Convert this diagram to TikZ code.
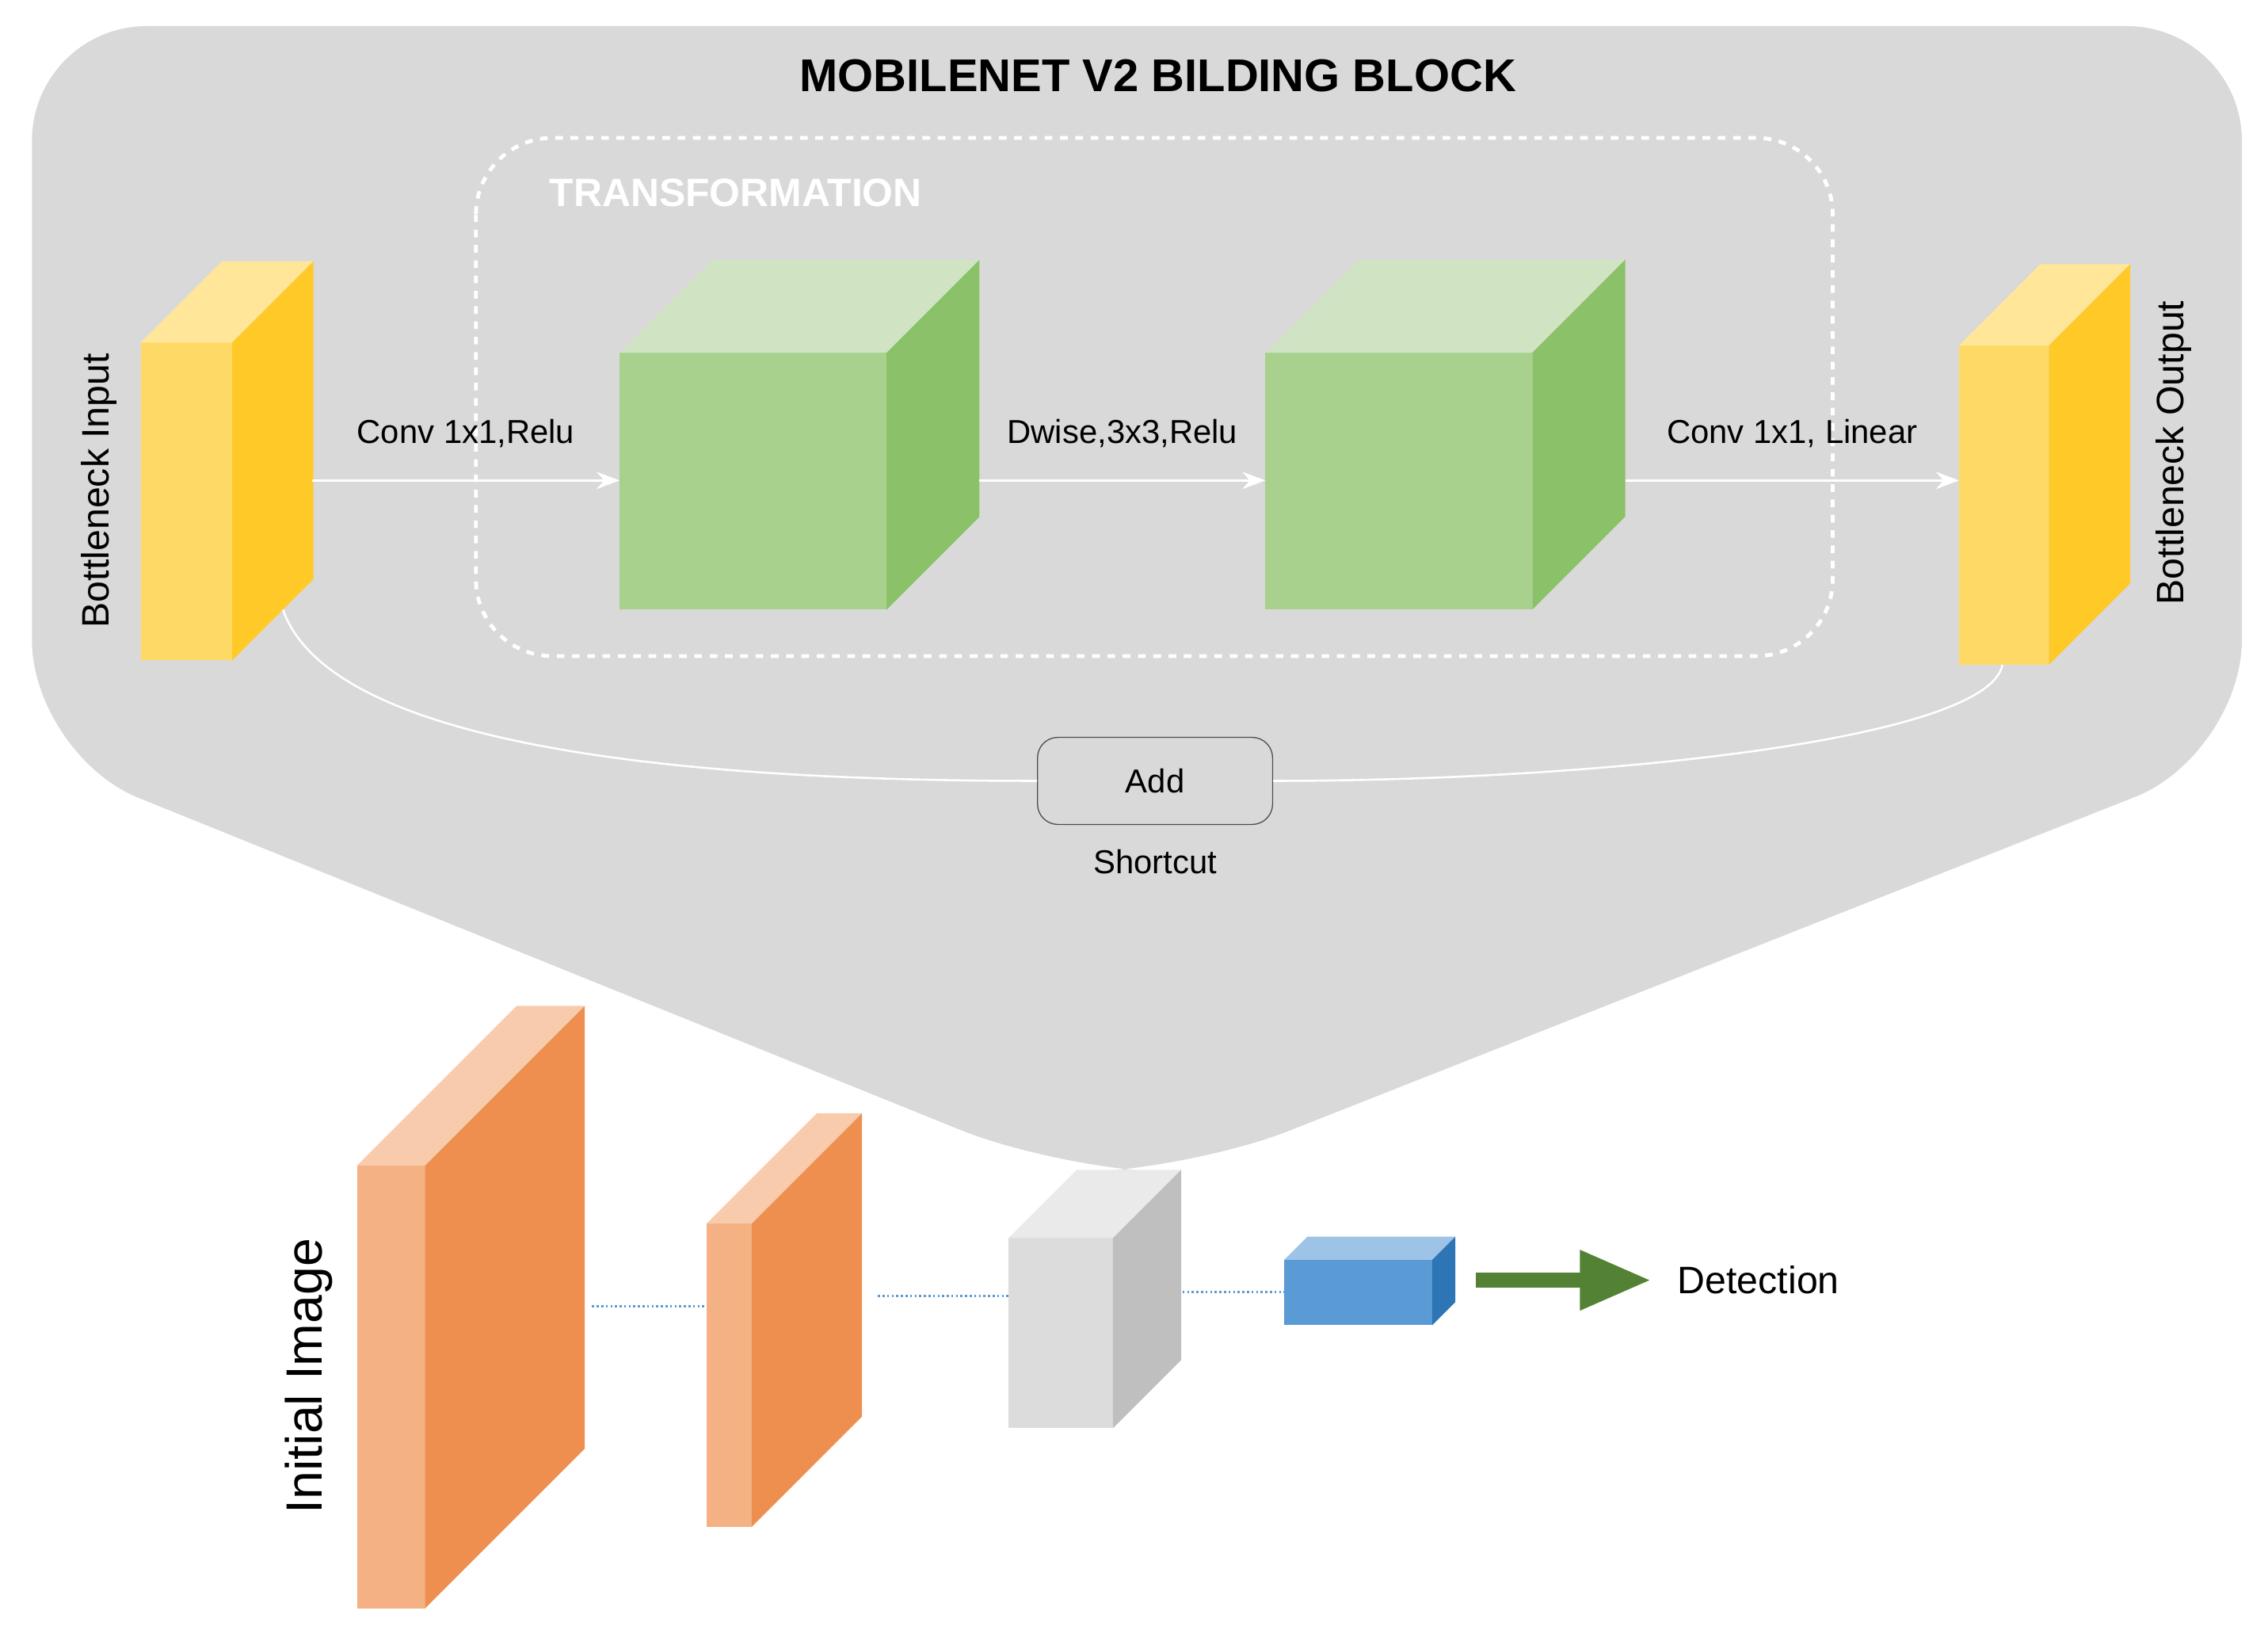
\documentclass[tikz,border=0pt]{standalone}
\usepackage{fontspec}
\setmainfont{Liberation Sans}
\usetikzlibrary{arrows.meta,positioning}
\definecolor{bggray}{HTML}{D9D9D9}
\definecolor{ylwF}{HTML}{FFD966}\definecolor{ylwT}{HTML}{FFE699}\definecolor{ylwS}{HTML}{FFCA28}
\definecolor{grnF}{HTML}{A9D18E}\definecolor{grnT}{HTML}{D0E4C4}\definecolor{grnS}{HTML}{8BC168}
\definecolor{orgF}{HTML}{F4B183}\definecolor{orgT}{HTML}{F8CBAD}\definecolor{orgS}{HTML}{EF8F4F}
\definecolor{gryF}{HTML}{DCDCDC}\definecolor{gryT}{HTML}{EAEAEA}\definecolor{gryS}{HTML}{BFBFBF}
\definecolor{bluF}{HTML}{5B9BD5}\definecolor{bluT}{HTML}{9DC3E6}\definecolor{bluS}{HTML}{2E75B6}
\definecolor{dotblue}{HTML}{5B9BD5}
\definecolor{arrgreen}{HTML}{548235}
% cuboid: x, y(top of front), width, height, depth, front, top, side
\newcommand\cuboid[8]{%
  \fill[#6] (#1,#2) rectangle ++(#3,#4);
  \fill[#7] (#1,#2) -- ++(#5,-#5) -- ++(#3,0) -- ++(-#5,#5) -- cycle;
  \fill[#8] ({#1+#3},#2) -- ++(#5,-#5) -- ++(0,#4) -- ++(-#5,#5) -- cycle;}
\tikzset{
  lbl/.style={font=\fontsize{13}{15}\selectfont},
  wflow/.style={draw=white,thick,-{Stealth[length=9pt]}},
  dotlink/.style={draw=dotblue,densely dotted,thick}
}
\begin{document}
\begin{tikzpicture}[x=0.02cm,y=-0.02cm]
  \useasboundingbox (0,0) rectangle (1563,1120);
  % background funnel
  \fill[bggray,rounded corners=45] (22,18) -- (1545,18) -- (1545,520) -- (815,808)
    -- (735,808) -- (22,520) -- cycle;
  \node[font=\bfseries\fontsize{18}{21}\selectfont] at (798,52) {MOBILENET V2 BILDING BLOCK};
  \draw[white,dashed,line width=1.5pt,rounded corners=30] (328,95) rectangle (1263,452);
  \node[white,font=\bfseries\fontsize{15.5}{18}\selectfont] at (507,133) {TRANSFORMATION};
  % block
  \cuboid{97}{236}{63}{219}{56}{ylwF}{ylwT}{ylwS}
  \cuboid{427}{243}{184}{177}{64}{grnF}{grnT}{grnS}
  \cuboid{872}{243}{184}{177}{64}{grnF}{grnT}{grnS}
  \cuboid{1350}{238}{62}{220}{56}{ylwF}{ylwT}{ylwS}
  \node[font=\fontsize{15}{18}\selectfont,rotate=90] at (68,338) {Bottleneck Input};
  \node[font=\fontsize{15}{18}\selectfont,rotate=90] at (1498,312) {Bottleneck Output};
  \coordinate (inR) at (215,331);   \coordinate (g1L) at (427,331);
  \coordinate (g1R) at (675,331);   \coordinate (g2L) at (872,331);
  \coordinate (g2R) at (1120,331);  \coordinate (outL) at (1350,331);
  \draw[wflow] (inR) -- (g1L) node[lbl,midway,above=9pt] {Conv 1x1,Relu};
  \draw[wflow] (g1R) -- (g2L) node[lbl,midway,above=9pt] {Dwise,3x3,Relu};
  \draw[wflow] (g2R) -- (outL) node[lbl,midway,above=9pt] {Conv 1x1, Linear};
  % shortcut
  \node[lbl,draw=black!70,rounded corners=8,minimum width=162*0.02cm,minimum height=60*0.02cm] (add) at (796,538) {Add};
  \node[lbl,below=6pt of add] {Shortcut};
  \coordinate (inB) at (195,420);  \coordinate (outB) at (1380,458);
  \draw[white,thick] (inB) .. controls (230,520) and (500,538) .. (add.west);
  \draw[white,thick] (add.east) .. controls (1100,538) and (1370,510) .. (outB);
  % network
  \cuboid{246}{803}{47}{305}{110}{orgF}{orgT}{orgS}
  \cuboid{487}{843}{31}{209}{76}{orgF}{orgT}{orgS}
  \cuboid{695}{853}{72}{131}{47}{gryF}{gryT}{gryS}
  \cuboid{885}{868}{102}{45}{16}{bluF}{bluT}{bluS}
  \node[rotate=90,font=\fontsize{20}{24}\selectfont] at (213,948) {Initial Image};
  \draw[dotlink] (408,900) -- (487,900);
  \draw[dotlink] (605,893) -- (695,893);
  \draw[dotlink] (815,890) -- (885,890);
  \coordinate (arrS) at (1017,882);
  \node[font=\fontsize{15}{18}\selectfont,anchor=west] (det) at (1150,882) {Detection};
  \draw[arrgreen,line width=6pt,-{Triangle[length=28pt,width=22pt]}] (arrS) -- (1138,882);
\end{tikzpicture}
\end{document}
